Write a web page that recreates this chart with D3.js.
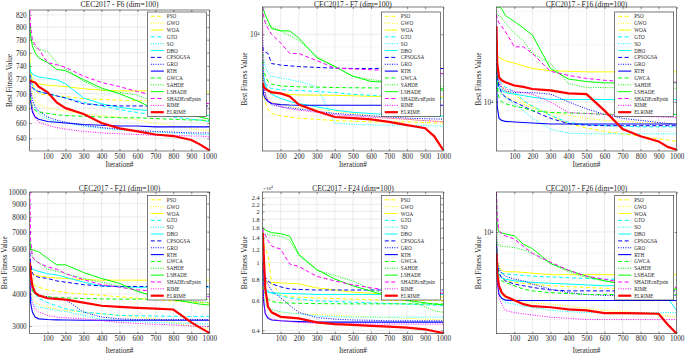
<!DOCTYPE html>
<html><head><meta charset="utf-8">
<script src="https://cdn.jsdelivr.net/npm/d3@7"></script>
<style>
body{margin:0;background:#fff}
svg{display:block}
text{font-family:"Liberation Serif","Times New Roman",serif;fill:#262626}
</style>
</head><body>
<svg id="chart" width="685" height="354"></svg>
<script>
// ---------------- DATA ----------------
const iterations = [1,5,15,30,50,100,150,200,300,400,500,600,700,800,900,950,1000];
const algorithms = ["PSO","GWO","WOA","GTO","SO","DBO","CPSOGSA","GRO","RTH","GWCA","SAHDE","LSHADE","SHADEcnEpsin","RIME","ELRIME"];
const panelTitles = ["CEC2017 - F6 (dim=100)","CEC2017 - F7 (dim=100)","CEC2017 - F16 (dim=100)",
                     "CEC2017 - F21 (dim=100)","CEC2017 - F24 (dim=100)","CEC2017 - F26 (dim=100)"];
const xTickValues = [100,200,300,400,500,600,700,800,900,1000];

const f6Values = [
 [760,730,715,705,700,698,697,696,693,692,691,690,690,690,689,689,689],
 [735,715,700,690,685,680,678,676,672,670,668,664,660,656,653,651,650],
 [745,730,720,716,714,712,711,710,707,705,704,704,704,703,703,703,703],
 [745,725,712,705,703,700,697,694,688,683,678,674,671,668,665,664,662],
 [725,705,690,680,672,665,662,660,656,653,651,649,648,647,646,645,645],
 [738,732,728,726,724,722,720,714,694,686,681,678,676,674,672,671,670],
 [728,715,708,705,703,700,697,694,686,684,683,683,683,683,683,683,683],
 [718,705,692,682,676,668,664,661,657,654,652,650,649,648,647,647,647],
 [712,690,675,668,665,662,661,660,658,657,656,656,655,655,655,655,655],
 [705,690,682,677,675,673,671,670,669,668,667,667,666,665,664,664,663],
 [815,790,775,768,765,762,745,736,718,705,702,698,688,684,680,676,668],
 [805,785,770,760,752,745,735,733,720,708,700,690,678,674,670,668,665],
 [828,800,780,772,765,745,742,738,725,716,710,703,697,693,690,688,686],
 [722,700,680,668,661,657,654,652,649,647,646,645,644,644,643,643,642],
 [720,718,717,716,710,702,688,680,672,660,653,649,645,643,638,632,625]
];
const f7Values = [
 [7000,6000,5600,5300,5100,5000,4950,4900,4850,4800,4780,4750,4750,4750,4720,4710,4700],
 [6800,6200,5900,5700,5600,5500,5420,5350,5300,5200,5100,5000,4900,4850,4800,4780,4750],
 [7200,6700,6400,6250,6150,6050,6000,5970,5960,5950,5930,5900,5890,5880,5870,5870,5870],
 [7800,7000,6600,6400,6300,6250,6220,6200,6150,6100,6000,5950,5900,5850,5820,5800,5790],
 [9500,8200,7600,7200,7000,6900,6800,6700,6400,4700,4650,4630,4620,4610,4600,4590,4580],
 [8000,7000,6500,6200,6000,5800,5650,5550,5400,5250,5150,5100,5050,5020,5000,4990,4980],
 [9000,8700,8600,8500,7800,7700,7650,7600,7550,7500,7480,7480,7480,7480,7480,7480,7480],
 [7500,6500,6000,5700,5500,5400,5350,5300,5200,5100,5050,5000,4950,4900,4880,4870,4860],
 [6600,6000,5800,5650,5550,5500,5480,5470,5470,5470,5470,5470,5470,5470,5470,5470,5470],
 [8500,7500,7000,6700,6550,6450,6420,6400,6380,6360,6350,6340,6330,6320,6310,6300,6300],
 [12000,11500,11000,10800,10700,10300,9900,9500,8300,7600,7000,6800,6700,6600,6500,6450,6400],
 [12600,12300,11800,11200,10500,10300,10300,9700,8200,7600,7000,6700,6650,6600,6500,6300,6200],
 [12600,11800,11000,10500,10000,9300,8500,8500,8000,7500,7450,7400,7350,7300,7250,7200,7150],
 [11000,7000,6000,5700,5600,5400,5300,5250,5150,5050,5000,4950,4900,4850,4800,4780,4750],
 [6600,6400,6300,6200,6100,6050,5900,5500,5200,4950,4900,4850,4750,4620,4500,4200,3730]
];
const f16Values = [
 [15000,13500,12500,12000,11500,11000,10000,9500,8500,7700,7300,7000,6800,6600,6400,6300,6200],
 [14000,12500,11500,11000,10700,10200,9700,9300,8800,8500,8200,8000,7900,7800,7750,7700,7700],
 [18000,17500,17200,16800,16500,16000,15500,15000,14600,14500,14400,14400,14400,14400,14400,14400,14400],
 [15000,13500,13000,12500,12000,11300,10200,9500,8500,7800,7600,7500,7450,7400,7400,7400,7400],
 [14000,12500,11500,11000,10500,9800,9000,8200,7200,6850,6800,6800,6800,6800,6800,6800,6800],
 [15000,13000,12000,11500,11200,11000,10800,10600,10300,10300,10300,10300,10300,10300,10300,10300,10300],
 [16000,13500,12000,11200,10600,10000,9500,9000,8200,7700,7550,7500,7500,7500,7500,7500,7500],
 [17000,14000,12500,11800,11400,11200,11200,11200,11000,10000,9200,8600,8200,8000,7800,7700,7600],
 [15000,9500,8200,8000,7900,7850,7800,7750,7650,7650,7650,7650,7650,7650,7650,7650,7650],
 [15000,12000,10500,10000,9800,9500,9300,9000,8800,8750,8700,8600,8600,8600,8600,8600,8600],
 [29000,28500,28500,28000,26000,23000,21000,18000,16000,12500,11900,11900,11850,11800,11800,11800,11800],
 [31600,31600,31600,31000,28500,26500,24500,22500,15000,13200,12800,12600,12600,12600,12600,12600,12600],
 [29000,27500,26000,25000,23500,19500,19500,18000,14500,13800,13300,13000,12800,12700,12700,12700,12700],
 [28000,16000,13000,12000,11700,11400,11200,11000,10000,8800,8700,8600,8500,8400,8350,8300,8300],
 [25000,16000,13500,13000,12700,12200,12000,11700,11500,11100,11000,9000,7200,6600,6200,5800,5600]
];
const f21Values = [
 [5200,4800,4500,4300,4250,4150,4100,4050,4000,3950,3900,3850,3800,3750,3720,3700,3680],
 [5000,4200,3900,3700,3650,3550,3500,3450,3400,3350,3300,3250,3200,3100,3000,2960,2930],
 [5500,5000,4800,4750,4700,4650,4620,4600,4550,4530,4530,4530,4530,4530,4530,4530,4530],
 [5000,4500,4200,4000,3850,3700,3600,3500,3400,3350,3300,3290,3280,3275,3270,3270,3270],
 [5000,4000,3700,3600,3550,3500,3450,3420,3300,3180,3150,3120,3100,3080,3070,3060,3050],
 [5500,5100,5000,4950,4900,4800,4750,4650,4450,4300,4270,4250,4250,4250,4250,4250,4250],
 [5800,5300,4800,4700,4650,4600,4500,4450,4350,4300,4280,4280,4280,4280,4280,4280,4280],
 [5500,4500,4100,4000,3950,3900,3850,3800,3400,3250,3200,3180,3180,3180,3180,3180,3180],
 [5000,3700,3400,3250,3200,3180,3170,3165,3160,3160,3160,3160,3160,3160,3160,3160,3160],
 [5000,4500,4100,4000,3950,3900,3880,3860,3840,3830,3820,3820,3820,3820,3820,3820,3820],
 [7000,5900,5600,5400,5300,5000,4900,4800,4600,4450,4300,4100,3900,3800,3750,3720,3700],
 [6500,6000,5950,5900,5850,5500,5200,5200,4850,4600,4400,4100,3900,3800,3700,3650,3620],
 [10000,6500,5600,5400,5300,5100,5000,4800,4550,4350,4250,4150,4100,4050,4000,3950,3900],
 [6000,4000,3700,3500,3400,3300,3250,3230,3200,3150,3100,3070,3050,3030,3000,2990,2980],
 [5300,4800,4300,4050,3950,3850,3830,3800,3700,3600,3560,3530,3510,3480,3100,2950,2820]
];
const f24Values = [
 [14000,13000,12000,11000,7500,6500,6300,6250,6200,6150,6100,6050,6000,6000,6000,6000,6000],
 [8000,6500,5800,5500,5300,5100,5050,5000,4950,4900,4850,4800,4750,4700,4650,4620,4600],
 [9500,8500,7800,7700,7650,7600,7550,7500,7100,6900,6700,6600,6500,6400,6350,6300,6280],
 [9000,7500,7000,6800,6600,6400,6200,6100,5950,5900,5850,5800,5750,5700,5650,5620,5600],
 [9000,6500,5700,5400,5300,5150,5050,5000,4850,4800,4780,4780,4780,4780,4780,4780,4780],
 [9000,7500,6800,6700,6650,6600,6580,6560,6500,6500,6500,6500,6500,6500,6500,6500,6500],
 [10000,9000,8200,7800,7500,7200,7000,6950,6900,6900,6900,6900,6900,6900,6900,6900,6900],
 [9800,9000,8000,7500,6800,6200,5600,5100,4750,4650,4600,4580,4550,4550,4550,4550,4550],
 [9500,6000,5000,4700,4600,4550,4520,4500,4470,4470,4470,4470,4470,4470,4470,4470,4470],
 [8000,7000,6500,6100,5900,5800,5780,5760,5740,5730,5720,5720,5720,5720,5720,5720,5720],
 [15000,14800,14700,14600,14500,14300,13500,11000,9000,8400,7800,7000,6400,6000,5500,5200,5100],
 [16200,15800,15500,15300,15000,14800,14300,11200,9100,8000,7300,6800,6300,6000,5800,5700,5650],
 [16000,15000,14500,13500,12500,12000,9800,9500,8300,7800,7400,7100,6900,6800,6700,6650,6600],
 [13000,6000,5000,4800,4650,4550,4500,4450,4400,4380,4370,4350,4350,4350,4350,4350,4350],
 [15000,12000,7000,5500,5100,4800,4750,4700,4450,4350,4300,4250,4200,4150,4050,3950,3850]
];
const f26Values = [
 [8500,7000,6500,6200,6000,5900,5850,5800,5700,5650,5600,5550,5550,5550,5550,5550,5550],
 [8500,6500,5600,5200,5000,4850,4800,4750,4700,4600,4500,4400,4350,4300,4200,4150,4100],
 [9000,7500,6900,6700,6600,6600,6550,6500,6400,6400,6400,6400,6400,6400,6400,6400,6400],
 [8500,7200,6700,6500,6450,6400,6350,6300,6250,6200,6150,6100,6100,6100,6100,6100,6100],
 [9500,6500,5500,5000,4800,4700,4600,4550,4400,4350,4300,4300,4300,4300,4300,4300,4300],
 [9000,7000,6400,6200,6100,6000,5950,5900,5850,5800,5750,5700,5700,5650,5600,5000,4400],
 [9000,7200,6500,6200,6000,5800,5700,5600,5450,5400,5400,5400,5400,5400,5400,5400,5400],
 [9500,7500,6800,6500,6300,6100,6000,5800,5500,5300,5200,5150,5150,5150,5150,5150,5150],
 [9000,6000,5200,5000,4900,4880,4880,4880,4880,4880,4880,4880,4880,4880,4880,4880,4880],
 [9000,7000,6200,6000,5900,5700,5500,5400,5300,5250,5200,5200,5200,5200,5200,5200,5200],
 [11000,9000,8700,8600,8600,8500,8300,8000,7200,6600,6200,6000,5800,5700,5600,5550,5500],
 [15000,10500,10000,9900,9800,9600,8800,8400,7200,6700,6300,6000,5800,5700,5600,5500,5500],
 [15200,12000,10200,9800,9600,9300,8600,8000,7300,6700,6300,6100,5900,5800,5700,5650,5600],
 [15000,6000,5000,4700,4400,4300,4250,4200,4100,4050,4000,4000,4000,4000,4000,4000,4000],
 [8000,6500,5700,5300,5100,4900,4700,4600,4550,4450,4400,4280,4280,4270,4250,3800,3450]
];

const yDomains = [[624,828],[3707,12620],[5520,31600],[2800,10000],[3820,26000],[3450,15200]];
const yTickValues = [
 [640,660,680,700,720,740,760,780,800,820],
 [10000],
 [10000],
 [3000,4000,5000,6000,7000,8000,9000,10000],
 [4000,6000,8000,10000,12000,14000,16000,18000,20000,22000,24000],
 [10000]
];
const yTickLabels = [
 ["640","660","680","700","720","740","760","780","800","820"],
 ["10^4"],
 ["10^4"],
 ["3000","4000","5000","6000","7000","8000","9000","10000"],
 ["0.4","0.6","0.8","1","1.2","1.4","1.6","1.8","2","2.2","2.4"],
 ["10^4"]
];
const yMinorGrid = [
 [],
 [4000,5000,6000,7000,8000,9000],
 [6000,7000,8000,9000,20000,30000],
 [],
 [],
 [4000,5000,6000,7000,8000,9000]
];

// ---------------- STYLE / LAYOUT ----------------
const seriesColors = ["#ffff00","#ffff00","#ffff00","#00ffff","#00ffff","#00ffff",
  "#0000ff","#0000ff","#0000ff","#00ff00","#00ff00","#00ff00","#ff00ff","#ff00ff","#ff0000"];
const seriesDash = ["4,2.5","1,1.4",null,"4,2.5","1,1.4",null,"4,2.5","1,1.4",null,"4,2.5","1,1.4",null,"4,2.5","1,1.4",null];
const seriesWidth = [1,1,1,1,1,1,1,1,1.1,1,1,1,1,1,2.2];

const layout = [
 {left:29.7, right:209.3, top:10, bottom:151, ylabX:10, titleY:6.8, xlY:167, yFont:7.2},
 {left:262.6,right:443.3, top:7,  bottom:151, ylabX:245, titleY:6.8, xlY:167, yFont:7.2},
 {left:496.3,right:676.7, top:7,  bottom:151, ylabX:478.5, titleY:6.8, xlY:167, yFont:7.2},
 {left:29.7, right:209.3, top:192,bottom:333.7, ylabX:5, titleY:190.5, xlY:352.5, yFont:7.2},
 {left:262.6,right:443.3, top:192,bottom:333.7, ylabX:245, titleY:190.5, xlY:352.5, yFont:6.2},
 {left:496.3,right:676.7, top:192,bottom:333.7, ylabX:478.5, titleY:190.5, xlY:352.5, yFont:7.2}
];
const legendTops = [12, 12, 12, 195.5, 195.5, 195.5];

const panelData = [f6Values, f7Values, f16Values, f21Values, f24Values, f26Values];
const svg = d3.select("#chart");
const AX = "#262626";
const FONT = '"Liberation Serif","Times New Roman",serif';

panelData.forEach((vals, p) => {
  const L = layout[p];
  const x = d3.scaleLinear().domain([0, 1000]).range([L.left, L.right]);
  const y = d3.scaleLog().domain(yDomains[p]).range([L.bottom, L.top]);
  const g = svg.append("g");

  const clipId = "clip" + p;
  svg.append("clipPath").attr("id", clipId).append("rect")
    .attr("x", L.left).attr("y", L.top).attr("width", L.right - L.left).attr("height", L.bottom - L.top);

  // grid
  const grid = g.append("g");
  grid.selectAll("line.gx").data(xTickValues.slice(0, -1)).join("line")
    .attr("x1", d => x(d)).attr("x2", d => x(d)).attr("y1", L.top).attr("y2", L.bottom)
    .attr("stroke", "#dfdfdf").attr("stroke-width", 0.6);
  grid.selectAll("line.gy").data(yTickValues[p]).join("line")
    .attr("x1", L.left).attr("x2", L.right).attr("y1", d => y(d)).attr("y2", d => y(d))
    .attr("stroke", "#dfdfdf").attr("stroke-width", 0.6);
  grid.selectAll("line.gm").data(yMinorGrid[p].filter(v => v > yDomains[p][0] && v < yDomains[p][1])).join("line")
    .attr("x1", L.left).attr("x2", L.right).attr("y1", d => y(d)).attr("y2", d => y(d))
    .attr("stroke", "#cfcfcf").attr("stroke-width", 0.5).attr("stroke-dasharray", "1,1.5");

  // series
  const line = d3.line().x(d => x(d[0])).y(d => y(d[1]));
  const sg = g.append("g").attr("clip-path", `url(#${clipId})`);
  vals.forEach((row, s) => {
    const pts = iterations.map((it, i) => [it, row[i]]);
    sg.append("path").attr("d", line(pts)).attr("fill", "none")
      .attr("stroke", seriesColors[s]).attr("stroke-width", seriesWidth[s])
      .attr("stroke-dasharray", seriesDash[s]).attr("stroke-linejoin", "miter");
  });

  // axes
  const xa = g.append("g").attr("transform", `translate(0,${L.bottom})`)
    .call(d3.axisBottom(x).tickValues(xTickValues).tickFormat(d3.format("d"))
      .tickSizeInner(-2).tickSizeOuter(0).tickPadding(2.5));
  const xt = g.append("g").attr("transform", `translate(0,${L.top})`)
    .call(d3.axisTop(x).tickValues(xTickValues).tickSizeInner(-2).tickSizeOuter(0).tickFormat(""));
  const ya = g.append("g").attr("transform", `translate(${L.left},0)`)
    .call(d3.axisLeft(y).tickValues(yTickValues[p]).tickFormat((d, i) => yTickLabels[p][i])
      .tickSizeInner(-2).tickSizeOuter(0).tickPadding(3));
  const yr = g.append("g").attr("transform", `translate(${L.right},0)`)
    .call(d3.axisRight(y).tickValues(yTickValues[p]).tickFormat("").tickSizeInner(-2).tickSizeOuter(0));
  [xa, xt, ya, yr].forEach(a => {
    a.select(".domain").remove();
    a.selectAll("line").attr("stroke", AX).attr("stroke-width", 0.5);
    a.selectAll("text").attr("font-size", 7.2).attr("fill", AX).attr("font-family", FONT);
  });
  ya.selectAll("text").attr("font-size", L.yFont);
  // superscript labels
  ya.selectAll(".tick text").each(function(d, i) {
    const lab = yTickLabels[p][i];
    if (lab.indexOf("^") >= 0) {
      const parts = lab.split("^");
      const t = d3.select(this).text("");
      t.append("tspan").text(parts[0]);
      t.append("tspan").attr("dy", "-0.45em").attr("font-size", 4.6).text(parts[1]);
    }
  });
  if (p === 4) {
    const ex = g.append("text").attr("x", L.left + 0.5).attr("y", L.top - 2.2).attr("font-size", 5).attr("fill", AX);
    ex.append("tspan").text("\u00d710");
    ex.append("tspan").attr("dy", "-0.5em").attr("font-size", 3.6).text("4");
  }

  // box
  g.append("rect").attr("x", L.left).attr("y", L.top).attr("width", L.right - L.left).attr("height", L.bottom - L.top)
    .attr("fill", "none").attr("stroke", AX).attr("stroke-width", 0.6);

  // title & labels
  g.append("text").attr("x", (L.left + L.right) / 2).attr("y", L.titleY).attr("text-anchor", "middle")
    .attr("font-size", 7.5).text(panelTitles[p]);
  g.append("text").attr("x", (L.left + L.right) / 2).attr("y", L.xlY).attr("text-anchor", "middle")
    .attr("font-size", 7.2).text("Iteration#");
  g.append("text").attr("transform", `translate(${L.ylabX},${(L.top + L.bottom) / 2}) rotate(-90)`)
    .attr("text-anchor", "middle").attr("dominant-baseline", "central").attr("font-size", 7.2).text("Best Fitness Value");

  // legend
  const lw = 59, lh = 104.5, lx = L.right - 3 - lw, ly = legendTops[p];
  const lg = g.append("g");
  lg.append("rect").attr("x", lx).attr("y", ly).attr("width", lw).attr("height", lh)
    .attr("fill", "#fff").attr("stroke", AX).attr("stroke-width", 0.6);
  algorithms.forEach((name, s) => {
    const yy = ly + 4.3 + s * 6.85;
    lg.append("line").attr("x1", lx + 3.5).attr("x2", lx + 16.5).attr("y1", yy).attr("y2", yy)
      .attr("stroke", seriesColors[s]).attr("stroke-width", seriesWidth[s]).attr("stroke-dasharray", seriesDash[s]);
    lg.append("text").attr("x", lx + 19.5).attr("y", yy).attr("dominant-baseline", "central")
      .attr("font-size", 5.2).text(name);
  });
});
</script>
</body></html>
